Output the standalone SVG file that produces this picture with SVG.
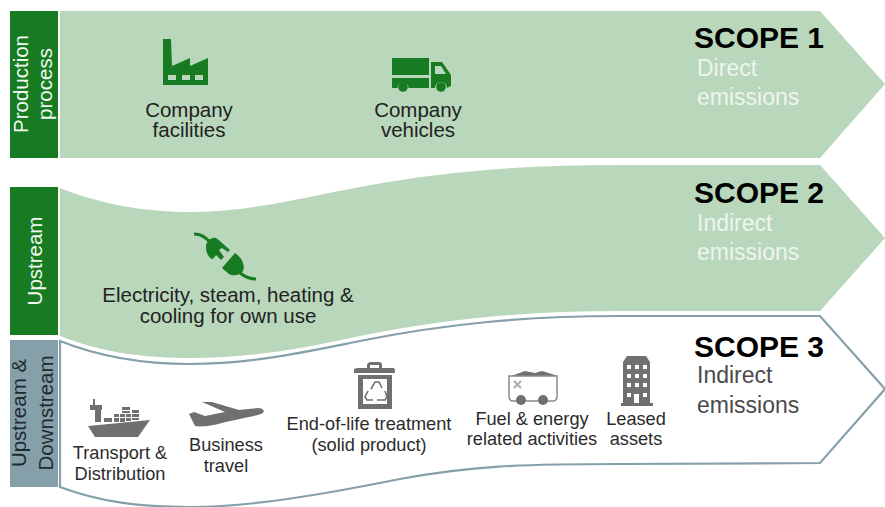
<svg xmlns="http://www.w3.org/2000/svg" width="885" height="507" viewBox="0 0 885 507">
<style>
text{font-family:"Liberation Sans",Arial,sans-serif}
.lb{font-size:18.2px;fill:#2b2b2b;text-anchor:middle}
.lg{font-size:20.5px;fill:#222;text-anchor:middle}
.sc{font-size:30px;font-weight:700;fill:#000}
.em{font-size:23px;fill:#edf5ee}
.em3{font-size:23px;fill:#4a4a4a}
.bar{font-size:20.5px;fill:#f2f7f2;text-anchor:middle}
.bar3{font-size:20.5px;fill:#1f2a2e;text-anchor:middle}
.g{fill:#177c21}
.k{fill:#707070}
.band{fill:#b9d7bb}
</style>
<rect width="885" height="507" fill="#fff"/>
<g id="scope3">
<path d="M60 341C105 359 150 364 190 364C250 364 300 353 360 341C450 323 530 316 620 316L820 316L885 389L820 463L620 464C520 464 470 466 400 479C320 495 250 507 190 507C140 507 100 502 60 487Z" fill="#fff" stroke="#86a0aa" stroke-width="2.2"/>
<rect x="10" y="340" width="48" height="147" fill="#86a0aa"/>
<text class="bar3" transform="translate(26 413) rotate(-90)">Upstream &amp;</text>
<text class="bar3" transform="translate(53 413) rotate(-90)">Downstream</text>
<text class="sc" x="694" y="357">SCOPE 3</text>
<text class="em3" x="697" y="383">Indirect</text>
<text class="em3" x="697" y="413">emissions</text>
</g>
<g id="scope1">
<path class="band" d="M60 11H820L885 84L820 158H60Z"/>
<rect x="10" y="11" width="48" height="147" class="g"/>
<text class="bar" transform="translate(28 84) rotate(-90)">Production</text>
<text class="bar" transform="translate(52 84) rotate(-90)">process</text>
<text class="sc" x="694" y="48">SCOPE 1</text>
<text class="em" x="697" y="76">Direct</text>
<text class="em" x="697" y="105">emissions</text>
</g>
<g id="scope2">
<path class="band" d="M60 188C105 206 150 212 190 212C250 212 300 198 360 187C450 170 530 165 620 165H820L885 238L820 311H620C530 311 450 318 360 336C300 349 250 358 190 358C150 358 105 354 60 336Z"/>
<rect x="10" y="187" width="48" height="148" class="g"/>
<text class="bar" transform="translate(42 261) rotate(-90)">Upstream</text>
<text class="sc" x="694" y="203">SCOPE 2</text>
<text class="em" x="697" y="231">Indirect</text>
<text class="em" x="697" y="260">emissions</text>
</g>
<g id="company-facilities">
<path class="g" d="M163 85V39H171L172 66L190 58V66L208 58V85Z"/>
<g fill="#b9d7bb"><rect x="168" y="75" width="8" height="5"/><rect x="182" y="75" width="8" height="5"/><rect x="195" y="75" width="8" height="5"/></g>
<text class="lg" x="189" y="117">Company</text>
<text class="lg" x="189" y="137">facilities</text>
</g>
<g id="company-vehicles">
<rect class="g" x="392" y="58" width="37" height="17"/>
<path class="g" d="M392 78H429V88H408.500A5.500 5.500 0 0 0 397.500 88H392Z"/>
<path class="g" fill-rule="evenodd" d="M431 62H442L451 75V86L447 88A6 6 0 0 0 435 88H431ZM435 66V74H446L441 66Z"/>
<circle class="g" cx="403" cy="87" r="4.800"/>
<circle class="g" cx="441" cy="87" r="4.800"/>
<text class="lg" x="418" y="117">Company</text>
<text class="lg" x="418" y="137">vehicles</text>
</g>
<g id="electricity">
<path d="M194 234C201 234 205 237 210 242" fill="none" stroke="#177c21" stroke-width="3"/>
<path d="M240 273C245 277 249 279 256 279" fill="none" stroke="#177c21" stroke-width="3"/>
<path class="g" d="M206 247C206 241 211 237 216 238L221 242L230 250L228 252L222 248L219 250L224 257L221 260L216 255L213 259C209 259 206 253 206 247Z"/>
<path class="g" d="M235 253C243 258 245 267 243 271C240 276 232 276 229 274L222 268Z"/>
<text class="lg" x="228" y="302">Electricity, steam, heating &amp;</text>
<text class="lg" x="228" y="323">cooling for own use</text>
</g>
<g id="transport">
<path class="k" d="M88 426L150 420L138 437H95Z"/>
<path class="k" d="M90 405H102V410H101V422H95V410H90ZM93 399H95V405H93Z"/>
<path class="k" d="M104 418H112V422H104ZM114 414H119V417H114ZM114 418H119V422H114ZM120 414H125V417H120ZM120 418H125V422H120ZM126 414H131V417H126ZM126 418H131V421H126ZM132 410H139V413H132ZM132 414H139V417H132ZM132 418H139V420H132ZM122 407H130V410H122ZM122 411H130V413H122Z"/>
<text class="lb" x="120" y="459">Transport &amp;</text>
<text class="lb" x="120" y="480">Distribution</text>
</g>
<g id="business-travel">
<path class="k" d="M189 414L194 412L205 416L225 412L202 402H212L239 410L258 408C263 408 265 411 263 413C258 416 240 418 222 423C212 426 200 427 195 426Z"/>
<text class="lb" x="226" y="451">Business</text>
<text class="lb" x="226" y="472">travel</text>
</g>
<g id="end-of-life">
<path class="k" d="M354 370C354 368 356 368 367 368V365C367 363 369 362 371 362H379C381 362 382 363 382 365V368H393C395 368 395 370 395 373H354ZM370 368H379V365H370Z"/>
<path class="k" fill-rule="evenodd" d="M358 375H392V409H358ZM363 379V404H387V379Z"/>
<path d="M371 389L375 382H379L382 388M385 391L387 397L385 400H377M373 400H367L365 397L368 391" fill="none" stroke="#707070" stroke-width="1.600"/>
<text class="lb" x="369" y="430">End-of-life treatment</text>
<text class="lb" x="369" y="451">(solid product)</text>
</g>
<g id="fuel-energy">
<path class="k" d="M511 376L525 371L535 373L542 371L558 376Z"/>
<path d="M509 376H557V396C557 399 556 401 553 401H513C510 401 509 399 509 396Z" fill="#fff" stroke="#8a8a8a" stroke-width="1.500"/>
<circle class="k" cx="521" cy="400" r="5"/>
<circle class="k" cx="543" cy="400" r="5"/>
<path d="M514 381L521 388M521 381L514 388" stroke="#b0b0b0" stroke-width="2.200" fill="none"/>
<text class="lb" x="532" y="425">Fuel &amp; energy</text>
<text class="lb" x="532" y="445">related activities</text>
</g>
<g id="leased-assets">
<path class="k" d="M623 403V362L627 356H646L650 362V403H653V406H621V403Z"/>
<g fill="#fff">
<rect x="627" y="365" width="4" height="4"/><rect x="635" y="365" width="4" height="4"/><rect x="643" y="365" width="4" height="4"/>
<rect x="627" y="374" width="4" height="4"/><rect x="635" y="374" width="4" height="4"/><rect x="643" y="374" width="4" height="4"/>
<rect x="627" y="383" width="4" height="4"/><rect x="635" y="383" width="4" height="4"/><rect x="643" y="383" width="4" height="4"/>
<rect x="627" y="393" width="4" height="4"/><rect x="634" y="394" width="5" height="9"/><rect x="643" y="393" width="4" height="4"/>
</g>
<text class="lb" x="636" y="425">Leased</text>
<text class="lb" x="636" y="445">assets</text>
</g>
</svg>
